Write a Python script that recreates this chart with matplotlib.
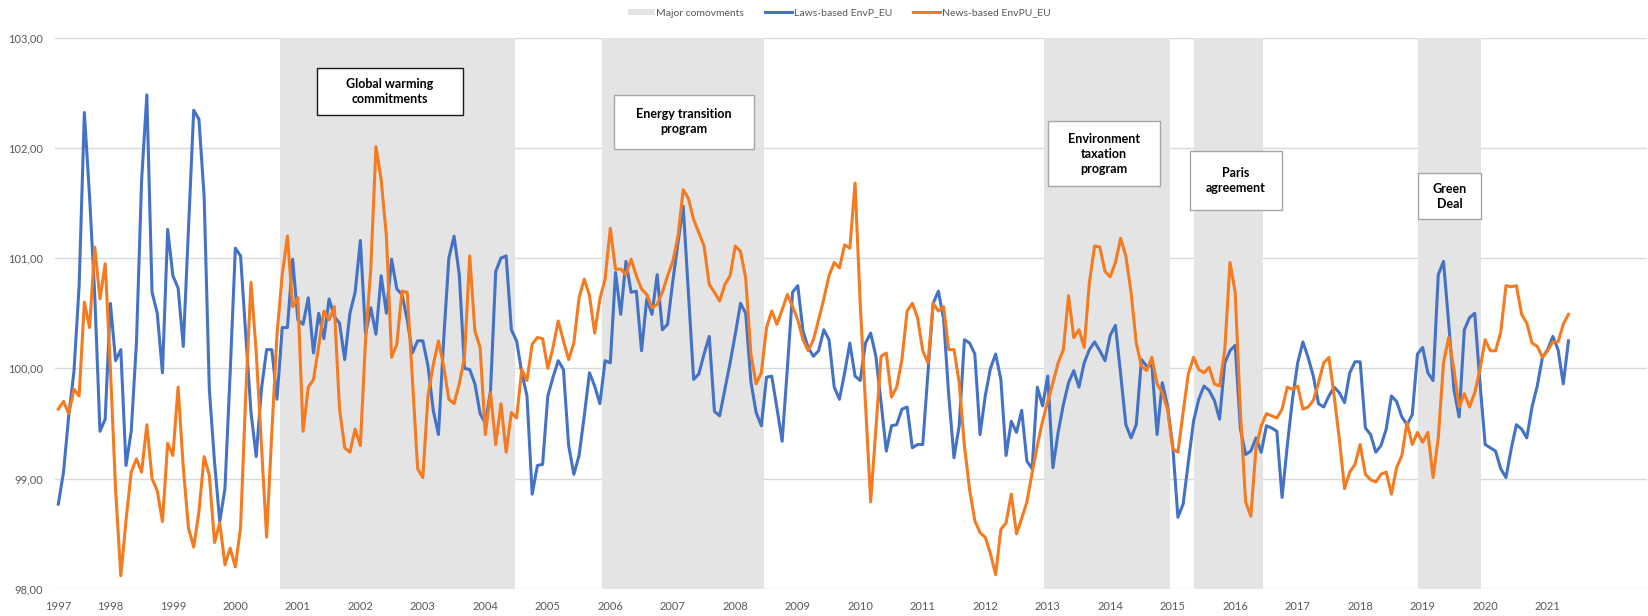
import numpy as np
import matplotlib.pyplot as plt
from matplotlib.patches import Patch, Rectangle
from matplotlib.lines import Line2D

plt.rcParams['font.family'] = ['Lato', 'DejaVu Sans']

# monthly series, first observation March 1997
start_year, start_month = 1997, 3

laws = [
    98.77, 99.06, 99.57, 99.97, 100.75, 102.32, 101.56, 100.66, 99.43, 99.54,
    100.59, 100.07, 100.17, 99.12, 99.43, 100.23, 101.71, 102.48, 100.69, 100.50,
    99.96, 101.26, 100.84, 100.73, 100.20, 101.26, 102.34, 102.26, 101.56, 99.81,
    99.15, 98.61, 98.91, 99.96, 101.09, 101.02, 100.30, 99.60, 99.20, 99.81,
    100.17, 100.17, 99.72, 100.37, 100.37, 100.99, 100.44, 100.40, 100.64, 100.14,
    100.50, 100.27, 100.63, 100.47, 100.41, 100.08, 100.50, 100.69, 101.16, 100.31,
    100.55, 100.31, 100.84, 100.50, 100.99, 100.72, 100.67, 100.44, 100.14, 100.25,
    100.25, 100.02, 99.62, 99.40, 100.26, 101.00, 101.20, 100.85, 100.00, 99.99,
    99.86, 99.59, 99.50, 99.80, 100.88, 101.00, 101.02, 100.35, 100.25, 99.96,
    99.75, 98.86, 99.12, 99.13, 99.75, 99.92, 100.07, 99.99, 99.30, 99.04,
    99.21, 99.57, 99.96, 99.84, 99.68, 100.07, 100.05, 100.87, 100.49, 100.97,
    100.69, 100.70, 100.16, 100.63, 100.49, 100.85, 100.35, 100.40, 100.79, 101.14,
    101.47, 100.69, 99.90, 99.95, 100.13, 100.29, 99.61, 99.57, 99.81, 100.05,
    100.31, 100.59, 100.50, 99.88, 99.60, 99.48, 99.92, 99.93, 99.64, 99.34,
    100.00, 100.69, 100.75, 100.34, 100.19, 100.11, 100.16, 100.35, 100.26, 99.83,
    99.72, 99.96, 100.23, 99.93, 99.89, 100.23, 100.32, 100.11, 99.69, 99.25,
    99.48, 99.49, 99.63, 99.65, 99.28, 99.31, 99.31, 99.96, 100.59, 100.70,
    100.45, 99.75, 99.19, 99.48, 100.26, 100.23, 100.13, 99.40, 99.75, 100.00,
    100.13, 99.90, 99.21, 99.52, 99.42, 99.62, 99.16, 99.09, 99.83, 99.66,
    99.93, 99.10, 99.42, 99.67, 99.87, 99.98, 99.83, 100.05, 100.17, 100.24,
    100.16, 100.07, 100.30, 100.39, 99.95, 99.49, 99.37, 99.49, 100.08, 100.02,
    100.03, 99.40, 99.87, 99.66, 99.30, 98.65, 98.77, 99.15, 99.52, 99.72,
    99.84, 99.80, 99.71, 99.54, 100.05, 100.16, 100.21, 99.45, 99.22, 99.25,
    99.37, 99.24, 99.48, 99.46, 99.43, 98.83, 99.30, 99.72, 100.05, 100.24,
    100.10, 99.93, 99.68, 99.65, 99.75, 99.83, 99.78, 99.69, 99.96, 100.06,
    100.06, 99.46, 99.40, 99.24, 99.30, 99.45, 99.75, 99.70, 99.56, 99.49,
    99.58, 100.13, 100.19, 99.96, 99.89, 100.85, 100.97, 100.41, 99.81, 99.56,
    100.35, 100.46, 100.50, 99.87, 99.31, 99.28, 99.25, 99.09, 99.01, 99.27,
    99.49, 99.45, 99.37, 99.65, 99.84, 100.10, 100.17, 100.29, 100.17, 99.86,
    100.25,
]

news = [
    99.63, 99.70, 99.59, 99.81, 99.75, 100.60, 100.37, 101.10, 100.63, 100.95,
    100.00, 98.90, 98.12, 98.62, 99.06, 99.18, 99.06, 99.49, 99.00, 98.89,
    98.61, 99.32, 99.21, 99.83, 99.10, 98.55, 98.38, 98.70, 99.20, 99.03,
    98.42, 98.60, 98.22, 98.37, 98.20, 98.56, 99.77, 100.78, 100.15, 99.31,
    98.47, 99.42, 100.31, 100.85, 101.20, 100.56, 100.64, 99.43, 99.83, 99.90,
    100.20, 100.52, 100.44, 100.56, 99.63, 99.28, 99.24, 99.45, 99.30, 100.26,
    100.90, 102.01, 101.71, 101.20, 100.10, 100.22, 100.70, 100.69, 99.90, 99.09,
    99.01, 99.76, 100.03, 100.25, 100.02, 99.72, 99.68, 99.86, 100.10, 101.02,
    100.34, 100.19, 99.40, 99.78, 99.31, 99.68, 99.24, 99.60, 99.55, 99.99,
    99.89, 100.22, 100.28, 100.27, 100.00, 100.19, 100.43, 100.25, 100.08, 100.23,
    100.64, 100.81, 100.66, 100.32, 100.63, 100.81, 101.27, 100.90, 100.90, 100.85,
    100.99, 100.84, 100.72, 100.67, 100.55, 100.58, 100.69, 100.84, 100.97, 101.20,
    101.62, 101.54, 101.35, 101.23, 101.11, 100.76, 100.69, 100.61, 100.76, 100.84,
    101.11, 101.06, 100.82, 100.13, 99.86, 99.96, 100.37, 100.52, 100.40, 100.53,
    100.67, 100.56, 100.44, 100.26, 100.16, 100.26, 100.44, 100.63, 100.84, 100.96,
    100.91, 101.12, 101.09, 101.68, 100.58, 99.69, 98.79, 99.45, 100.11, 100.14,
    99.74, 99.83, 100.08, 100.52, 100.59, 100.46, 100.16, 100.05, 100.59, 100.52,
    100.56, 100.17, 100.17, 99.87, 99.30, 98.90, 98.62, 98.51, 98.47, 98.32,
    98.13, 98.54, 98.60, 98.86, 98.50, 98.64, 98.79, 99.05, 99.30, 99.52,
    99.70, 99.87, 100.05, 100.17, 100.66, 100.28, 100.35, 100.19, 100.78, 101.11,
    101.10, 100.88, 100.83, 100.96, 101.18, 101.02, 100.69, 100.23, 100.02, 99.98,
    100.10, 99.86, 99.78, 99.63, 99.27, 99.24, 99.60, 99.95, 100.10, 99.99,
    99.96, 100.01, 99.86, 99.84, 100.17, 100.96, 100.69, 99.60, 98.79, 98.66,
    99.28, 99.48, 99.59, 99.57, 99.55, 99.63, 99.83, 99.81, 99.84, 99.63,
    99.65, 99.71, 99.87, 100.05, 100.10, 99.75, 99.36, 98.91, 99.06, 99.13,
    99.31, 99.04, 98.99, 98.97, 99.04, 99.06, 98.86, 99.10, 99.21, 99.51,
    99.31, 99.42, 99.33, 99.42, 99.01, 99.37, 100.05, 100.28, 99.99, 99.65,
    99.77, 99.65, 99.78, 99.99, 100.26, 100.16, 100.16, 100.33, 100.75, 100.74,
    100.75, 100.49, 100.41, 100.23, 100.20, 100.10, 100.16, 100.24, 100.24, 100.40,
    100.49,
]

# shaded periods of major comovements (decimal years)
comovements = [(2000.71, 2004.47), (2005.87, 2008.46), (2012.94, 2014.95),
               (2015.34, 2016.45), (2018.93, 2019.94)]

# annotation boxes: text, x0, x1, y0, y1, edge colour
notes = [
    ("Global warming\ncommitments", 2001.31, 2003.64, 102.30, 102.72, "#1a1a1a"),
    ("Energy transition\nprogram", 2006.06, 2008.30, 101.99, 102.48, "#a6a6a6"),
    ("Environment\ntaxation\nprogram", 2013.01, 2014.80, 101.65, 102.24, "#a6a6a6"),
    ("Paris\nagreement", 2015.27, 2016.75, 101.44, 101.97, "#a6a6a6"),
    ("Green\nDeal", 2018.93, 2019.93, 101.35, 101.77, "#a6a6a6"),
]

dates = start_year + (start_month - 1 + np.arange(len(laws))) / 12.0

blue = "#4472C4"
orange = "#F47B20"
shade = "#E4E4E4"
txt = "#595959"

fig = plt.figure(figsize=(16.48, 6.16), dpi=100)
ax = fig.add_axes([55.4 / 1648, 1 - 589 / 616, (1647 - 55.4) / 1648, (589 - 37.5) / 616])

for a, b in comovements:
    ax.axvspan(a, b, color=shade, lw=0, zorder=1)

ax.plot(dates, laws, color=blue, lw=2.2, zorder=3)
ax.plot(dates, news, color=orange, lw=2.2, zorder=3)

for label, x0, x1, y0, y1, ec in notes:
    ax.add_patch(Rectangle((x0, y0), x1 - x0, y1 - y0, fc="white", ec=ec, lw=1.0, zorder=4))
    ax.text((x0 + x1) / 2, (y0 + y1) / 2, label, ha="center", va="center",
            fontsize=9, fontweight="bold", color="black", linespacing=1.3, zorder=5)

ax.set_ylim(98, 103)
ax.set_xlim(1997.12, 2022.59)
ax.set_yticks(np.arange(98, 104))
ax.set_yticklabels([("%.2f" % v).replace(".", ",") for v in np.arange(98, 104)])

years = np.floor(dates).astype(int)
first = [dates[years == y][0] for y in np.unique(years)]
ax.set_xticks(first)
ax.set_xticklabels([str(y) for y in np.unique(years)])

ax.set_axisbelow(True)
ax.grid(axis="y", color="#d9d9d9", lw=1.0, zorder=0)
for s in ax.spines.values():
    s.set_visible(False)
ax.tick_params(axis="both", length=0, labelsize=8, colors=txt)
ax.tick_params(axis="y", pad=9)
ax.tick_params(axis="x", pad=9)

handles = [Patch(facecolor=shade, edgecolor="none"),
           Line2D([], [], color=blue, lw=2.2),
           Line2D([], [], color=orange, lw=2.2)]
labels = ["Major comovments", "Laws-based EnvP_EU", "News-based EnvPU_EU"]
fig.legend(handles, labels, loc="center", bbox_to_anchor=(839 / 1648, 1 - 13 / 616),
           ncol=3, frameon=False, fontsize=7.5, handlelength=2.6, handleheight=0.6,
           handletextpad=0.15, columnspacing=2.0, labelcolor=txt)

fig.savefig("out.png", dpi=100)
